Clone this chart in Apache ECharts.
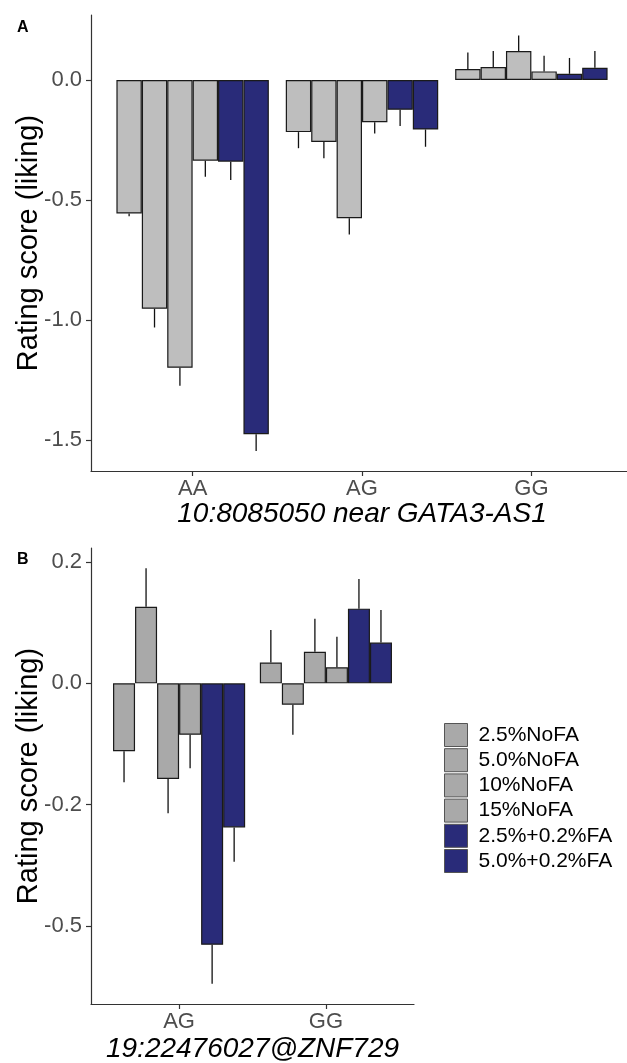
<!DOCTYPE html>
<html>
<head>
<meta charset="utf-8">
<script src="https://cdn.jsdelivr.net/npm/echarts@6/dist/echarts.min.js"></script>
<style>
html,body{margin:0;padding:0;background:#fff;}
#chart{width:627px;height:1063px;}
</style>
</head>
<body>
<div id="chart"></div>
<script>
// ---------- data ----------
const seriesNames = ['2.5%NoFA', '5.0%NoFA', '10%NoFA', '15%NoFA', '2.5%+0.2%FA', '5.0%+0.2%FA'];

// Panel A: 10:8085050 near GATA3-AS1
const aCategories = ['AA', 'AG', 'GG'];
const aMeanAA = [-0.556, -0.953, -1.199, -0.336, -0.340, -1.476];
const aMeanAG = [-0.217, -0.258, -0.576, -0.176, -0.124, -0.206];
const aMeanGG = [0.046, 0.054, 0.121, 0.036, 0.026, 0.051];
const aSeAA = [0.012, 0.078, 0.075, 0.067, 0.077, 0.070];
const aSeAG = [0.067, 0.068, 0.068, 0.047, 0.067, 0.072];
const aSeGG = [0.069, 0.067, 0.065, 0.065, 0.066, 0.070];
const aTickValues = [-1.5, -1.0, -0.5, 0.0];
const aTickLabels = ['-1.5', '-1.0', '-0.5', '0.0'];

// Panel B: 19:22476027@ZNF729
const bCategories = ['AG', 'GG'];
const bMeanAG = [-0.140, 0.158, -0.197, -0.106, -0.539, -0.297];
const bMeanGG = [0.043, -0.044, 0.065, 0.033, 0.154, 0.084];
const bSeAG = [0.064, 0.079, 0.071, 0.069, 0.080, 0.071];
const bSeGG = [0.067, 0.062, 0.068, 0.063, 0.061, 0.067];
const bTickValues = [-0.5, -0.25, 0.0, 0.25];
const bTickLabels = ['-0.5', '-0.2', '0.0', '0.2'];

// ---------- styles ----------
const FONT = 'Liberation Sans, Arial, sans-serif';
const greyA = '#BEBEBE';
const greyB = '#A9A9A9';
const blue = '#292B79';
const barBorder = '#1A1A1A';
const axisColor = '#333333';
const tickText = '#4D4D4D';
const dodge = 0.15;

const aMeans = [aMeanAA, aMeanAG, aMeanGG];
const aSes = [aSeAA, aSeAG, aSeGG];
const bMeans = [bMeanAG, bMeanGG];
const bSes = [bSeAG, bSeGG];

function colorFor(i, grey) { return i < 4 ? grey : blue; }

const series = [];
function addPanel(means, ses, axisIdx, grey) {
  seriesNames.forEach((name, i) => {
    series.push({
      type: 'bar', name: name,
      xAxisIndex: axisIdx, yAxisIndex: axisIdx,
      barWidth: '15%', barGap: '0%',
      data: means.map((m, g) => [g, m[i]]),
      itemStyle: { color: colorFor(i, grey), borderColor: barBorder, borderWidth: 1.2 },
      emphasis: { disabled: true },
      z: 3
    });
  });
  const err = [];
  seriesNames.forEach((name, i) => {
    means.forEach((m, g) => {
      const v = m[i], s = ses[g][i];
      err.push([g + (i - 2.5) * dodge, v, v + (v < 0 ? -s : s)]);
    });
  });
  series.push({
    type: 'custom', xAxisIndex: axisIdx, yAxisIndex: axisIdx,
    data: err, encode: { x: 0, y: [1, 2] }, z: 4, silent: true, clip: false,
    renderItem: function (params, api) {
      const p1 = api.coord([api.value(0), api.value(1)]);
      const p2 = api.coord([api.value(0), api.value(2)]);
      return { type: 'line', shape: { x1: p1[0], y1: p1[1], x2: p2[0], y2: p2[1] },
               style: { stroke: '#111', lineWidth: 1.3 } };
    }
  });
}
addPanel(aMeans, aSes, 0, greyA);
addPanel(bMeans, bSes, 1, greyB);

function xAxis(gridIdx, cats, maxV, name, nameGap) {
  const vals = cats.map((c, i) => i);
  return {
    type: 'value', gridIndex: gridIdx, min: -0.6, max: maxV,
    name: name, nameLocation: 'middle', nameGap: nameGap, nameMoveOverlap: false,
    nameTextStyle: { fontFamily: FONT, fontSize: 28, fontStyle: 'italic', color: '#000' },
    axisLine: { show: true, onZero: false, lineStyle: { color: axisColor, width: 1.2 } },
    axisTick: { show: true, length: 5, customValues: vals, lineStyle: { color: axisColor, width: 1.2 } },
    axisLabel: { customValues: vals, margin: 7, fontFamily: FONT, fontSize: 22, color: tickText,
                 formatter: v => cats[Math.round(v)] },
    splitLine: { show: false }
  };
}
function yAxis(gridIdx, minV, maxV, tv, tl) {
  return {
    type: 'value', gridIndex: gridIdx, min: minV, max: maxV,
    name: 'Rating score (liking)', nameLocation: 'middle', nameGap: 48, nameMoveOverlap: false,
    nameTextStyle: { fontFamily: FONT, fontSize: 29, color: '#000' },
    axisLine: { show: true, onZero: false, lineStyle: { color: axisColor, width: 1.2 } },
    axisTick: { show: true, length: 5, customValues: tv, lineStyle: { color: axisColor, width: 1.2 } },
    axisLabel: { customValues: tv, margin: 9, fontFamily: FONT, fontSize: 22, color: tickText,
                 formatter: v => { const k = tv.findIndex(t => Math.abs(t - v) < 1e-9); return k >= 0 ? tl[k] : ''; } },
    splitLine: { show: false }
  };
}

const chart = echarts.init(document.getElementById('chart'), null, { renderer: 'canvas' });
chart.setOption({
  animation: false,
  backgroundColor: '#fff',
  textStyle: { fontFamily: FONT },
  title: [
    { text: 'A', left: 12, top: 15, textStyle: { fontFamily: FONT, fontSize: 16, fontWeight: 'bold', color: '#000' } },
    { text: 'B', left: 12, top: 547, textStyle: { fontFamily: FONT, fontSize: 16, fontWeight: 'bold', color: '#000' } }
  ],
  grid: [
    { left: 91, top: 15, width: 542, height: 456, containLabel: false, outerBoundsMode: 'none' },
    { left: 91, top: 548, width: 323, height: 456, containLabel: false, outerBoundsMode: 'none' }
  ],
  xAxis: [
    xAxis(0, aCategories, 2.6, '10:8085050 near GATA3-AS1', 29),
    xAxis(1, bCategories, 1.6, '19:22476027@ZNF729', 31)
  ],
  yAxis: [
    yAxis(0, -1.629, 0.271, aTickValues, aTickLabels),
    yAxis(1, -0.661, 0.279, bTickValues, bTickLabels)
  ],
  legend: {
    orient: 'vertical', left: 439, top: 718,
    itemWidth: 23, itemHeight: 23, itemGap: 1.2,
    selectedMode: false, icon: 'rect',
    textStyle: { fontFamily: FONT, fontSize: 21, color: '#000', padding: [0, 0, 0, 6], lineHeight: 23 },
    data: seriesNames.map((n, i) => ({ name: n,
      itemStyle: { color: colorFor(i, greyB), borderColor: '#555', borderWidth: 1 } }))
  },
  series: series
});
</script>
</body>
</html>
